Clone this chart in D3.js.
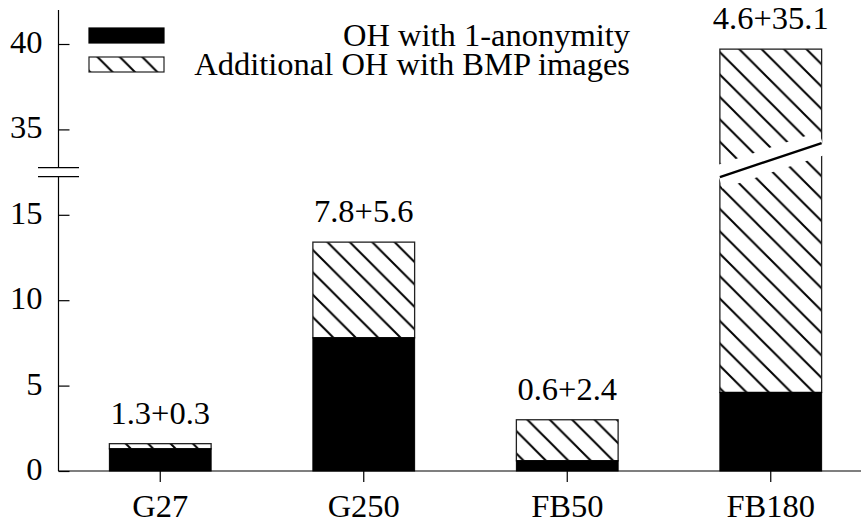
<!DOCTYPE html>
<html lang="en">
<head>
  <meta charset="UTF-8">
  <title>OH stacked bars</title>
  <style>
    body {
      margin: 0;
      background: white;
    }
  </style>
</head>
<body>
  <div id="chart"></div>

  <script src="https://d3js.org/d3.v7.min.js"></script>
  <script>
    const categories = ["G27", "G250", "FB50", "FB180"];
    const baseOH = [1.3, 7.8, 0.6, 4.6];     // OH with 1-anonymity
    const extraOH = [0.3, 5.6, 2.4, 35.1];   // additional OH with BMP images
    const lowerTicks = [0, 5, 10, 15];
    const upperTicks = [35, 40];
    const legendLabels = ["OH with 1-anonymity", "Additional OH with BMP images"];

    const width = 861, height = 524;
    const fontFamily = "'Liberation Serif', 'DejaVu Serif', serif";
    const fontSize = 32.5;
    const axisX = 58.5, baseY = 471;
    const pxPerUnit = 17.08;
    const breakLow = 17.5, breakHigh = 32.5;

    const svg = d3.select("#chart").append("svg")
      .attr("width", width)
      .attr("height", height)
      .attr("font-family", fontFamily);

    // hatch pattern (north west lines)
    const defs = svg.append("defs");
    const pat = defs.append("pattern")
      .attr("id", "hatch")
      .attr("patternUnits", "userSpaceOnUse")
      .attr("width", 22.4)
      .attr("height", 22.4)
      .attr("x", 18.1)
      .attr("y", 0);
    pat.append("rect").attr("width", 22.4).attr("height", 22.4).attr("fill", "white");
    pat.append("path")
      .attr("d", "M-3,-3L25.4,25.4M-3,19.4L3,25.4M19.4,-3L25.4,3")
      .attr("stroke", "black")
      .attr("stroke-width", 2);

    // Scales (broken y axis)
    const x = d3.scaleBand()
      .domain(categories)
      .range([axisX, axisX + 814])
      .paddingInner(0.5)
      .paddingOuter(0.25);

    const yLow = d3.scaleLinear()
      .domain([0, breakLow])
      .range([baseY, baseY - pxPerUnit * breakLow]);
    const yHigh = d3.scaleLinear()
      .domain([breakHigh, breakHigh + (yLow(breakLow) - 10) / pxPerUnit])
      .range([yLow(breakLow), 10]);
    // values above the break go on the upper segment
    const yPos = v => v <= breakLow ? yLow(v) : yHigh(v);

    const data = categories.map((c, i) => ({
      cat: c,
      base: baseOH[i],
      extra: extraOH[i],
      total: baseOH[i] + extraOH[i]
    }));

    const bars = svg.append("g");

    // hatched part
    bars.selectAll(".extra")
      .data(data)
      .enter()
      .append("rect")
      .attr("class", "extra")
      .attr("x", d => x(d.cat))
      .attr("width", x.bandwidth())
      .attr("y", d => yPos(d.total))
      .attr("height", d => yPos(d.base) - yPos(d.total))
      .attr("fill", "url(#hatch)")
      .attr("stroke", "#222")
      .attr("stroke-width", 1.3);

    // solid part
    bars.selectAll(".base")
      .data(data)
      .enter()
      .append("rect")
      .attr("class", "base")
      .attr("x", d => x(d.cat))
      .attr("width", x.bandwidth())
      .attr("y", d => yPos(d.base))
      .attr("height", d => baseY - yPos(d.base))
      .attr("fill", "black")
      .attr("stroke", "black")
      .attr("stroke-width", 1);

    // break mark across the tall bar
    const yb = yLow(breakLow);
    data.filter(d => d.total > breakHigh).forEach(d => {
      const x0 = x(d.cat), x1 = x(d.cat) + x.bandwidth();
      svg.append("line")
        .attr("x1", x0 - 1).attr("y1", yb + 5)
        .attr("x2", x1 + 1).attr("y2", yb - 29)
        .attr("stroke", "white")
        .attr("stroke-width", 24);
      svg.append("line")
        .attr("x1", x0).attr("y1", yb + 5)
        .attr("x2", x1).attr("y2", yb - 29)
        .attr("stroke", "black")
        .attr("stroke-width", 2.4);
    });

    // value labels
    svg.selectAll(".val")
      .data(data)
      .enter()
      .append("text")
      .attr("class", "val")
      .attr("x", d => x(d.cat) + x.bandwidth() / 2)
      .attr("y", d => yPos(d.total) - 20)
      .attr("text-anchor", "middle")
      .attr("font-size", fontSize)
      .text(d => `${d.base.toFixed(1)}+${d.extra.toFixed(1)}`);

    // y axis, lower and upper parts
    function styleAxis(g) {
      g.select(".domain").remove();
      g.attr("font-family", fontFamily).attr("font-size", fontSize);
      g.selectAll("line").attr("stroke-width", 1.2);
      g.selectAll("text").attr("dy", "0.26em");
    }

    svg.append("g")
      .attr("transform", `translate(${axisX},0)`)
      .call(d3.axisLeft(yLow).tickValues(lowerTicks).tickSizeInner(-11).tickSizeOuter(0).tickPadding(16))
      .call(styleAxis);

    svg.append("g")
      .attr("transform", `translate(${axisX},0)`)
      .call(d3.axisLeft(yHigh).tickValues(upperTicks).tickSizeInner(-11).tickSizeOuter(0).tickPadding(16))
      .call(styleAxis);

    // axis lines with the break gap
    svg.append("line")
      .attr("x1", axisX).attr("x2", axisX)
      .attr("y1", 10).attr("y2", yb - 4.5)
      .attr("stroke", "black").attr("stroke-width", 1.2);
    svg.append("line")
      .attr("x1", axisX).attr("x2", axisX)
      .attr("y1", yb + 4.5).attr("y2", baseY)
      .attr("stroke", "black").attr("stroke-width", 1.2);
    [yb - 4.5, yb + 4.5].forEach(yy => {
      svg.append("line")
        .attr("x1", 38).attr("x2", 79)
        .attr("y1", yy).attr("y2", yy)
        .attr("stroke", "black").attr("stroke-width", 1.2);
    });

    // x axis
    const xg = svg.append("g")
      .attr("transform", `translate(0,${baseY})`)
      .call(d3.axisBottom(x).tickSizeInner(11).tickSizeOuter(0).tickPadding(11.5));
    xg.select(".domain").remove();
    xg.attr("font-family", fontFamily).attr("font-size", fontSize);
    xg.selectAll("line").attr("stroke-width", 1.2);
    svg.append("line")
      .attr("x1", axisX).attr("x2", width)
      .attr("y1", baseY).attr("y2", baseY)
      .attr("stroke", "black").attr("stroke-width", 1.2);

    // legend
    const legend = svg.append("g");
    const legendFills = ["black", "url(#hatch)"];
    legendLabels.forEach((lab, i) => {
      const ly = 28 + i * 29;
      legend.append("rect")
        .attr("x", 89).attr("y", ly)
        .attr("width", 75).attr("height", 15)
        .attr("fill", legendFills[i])
        .attr("stroke", i === 0 ? "black" : "#222")
        .attr("stroke-width", 1.2);
      legend.append("text")
        .attr("x", 630)
        .attr("y", ly + 17.5)
        .attr("text-anchor", "end")
        .attr("font-size", fontSize)
        .text(lab);
    });
  </script>
</body>
</html>
